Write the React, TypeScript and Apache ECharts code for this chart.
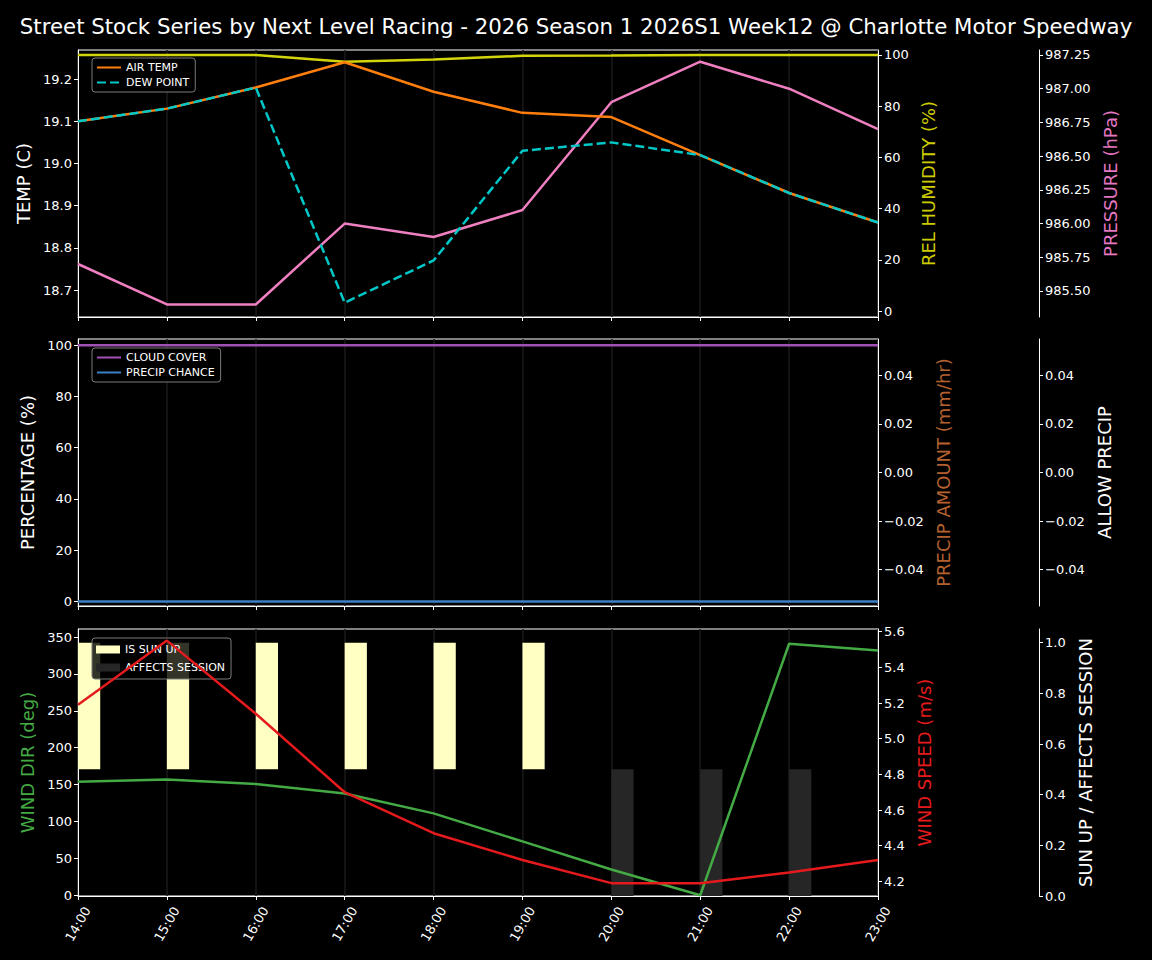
import * as echarts from 'echarts';
import React, { useEffect, useRef } from 'react';

const TITLE =
  'Street Stock Series by Next Level Racing - 2026 Season 1 2026S1 Week12 @ Charlotte Motor Speedway';

const hours = [14, 15, 16, 17, 18, 19, 20, 21, 22, 23];

// top panel
const airTemp = [19.1, 19.13, 19.18, 19.24, 19.17, 19.12, 19.11, 19.02, 18.93, 18.86];
const dewPoint = [19.1, 19.13, 19.18, 18.67, 18.77, 19.03, 19.05, 19.02, 18.93, 18.86];
const relHumidity = [100, 100, 100, 97.4, 98.2, 99.7, 99.8, 100, 100, 100];
const pressure = [985.7, 985.4, 985.4, 986.0, 985.9, 986.1, 986.9, 987.2, 987.0, 986.7];

// middle panel
const cloudCover = [100, 100, 100, 100, 100, 100, 100, 100, 100, 100];
const precipChance = [0, 0, 0, 0, 0, 0, 0, 0, 0, 0];
const precipAmount = [0, 0, 0, 0, 0, 0, 0, 0, 0, 0];

// bottom panel
const windDir = [154, 157, 151, 138, 111, 73, 35, 0, 341, 332];
const windSpeed = [5.19, 5.55, 5.14, 4.7, 4.47, 4.32, 4.19, 4.19, 4.25, 4.32];
const isSunUp = [1, 1, 1, 1, 1, 1, 0, 0, 0, 0];
const affectsSession = [0, 0, 0, 0, 0, 0, 1, 1, 1, 0];

// tick labels
const tempTicks = [18.7, 18.8, 18.9, 19.0, 19.1, 19.2];
const humidityTicks = [0, 20, 40, 60, 80, 100];
const pressureTicks = [985.5, 985.75, 986.0, 986.25, 986.5, 986.75, 987.0, 987.25];
const percentTicks = [0, 20, 40, 60, 80, 100];
const precipTicks = [-0.04, -0.02, 0, 0.02, 0.04];
const windDirTicks = [0, 50, 100, 150, 200, 250, 300, 350];
const windSpeedTicks = [4.2, 4.4, 4.6, 4.8, 5.0, 5.2, 5.4, 5.6];
const sunTicks = [0, 0.2, 0.4, 0.6, 0.8, 1.0];

const FONT = 'DejaVu Sans';
const BAR_HOURS = 0.25;
const LW = 2.5;

const pairs = (vals: number[]) => hours.map((h, i) => [h, vals[i]]);

const fmt = (v: number, d: number) => v.toFixed(d).replace('-', '\u2212');

const yAx = (
  gridIndex: number,
  position: 'left' | 'right',
  offset: number,
  name: string,
  nameColor: string,
  nameGap: number,
  min: number,
  max: number,
  ticks: number[],
  decimals: number,
) => ({
  type: 'value',
  gridIndex,
  position,
  offset,
  min,
  max,
  name,
  nameLocation: 'middle',
  nameGap,
  nameRotate: 90,
  nameTextStyle: { color: nameColor, fontSize: 18, fontFamily: FONT },
  axisLine: { show: true, onZero: false, lineStyle: { color: '#fff', width: 1 } },
  axisTick: { show: true, length: 4, customValues: ticks, lineStyle: { color: '#fff' } },
  axisLabel: {
    color: '#fff',
    fontSize: 13,
    fontFamily: FONT,
    margin: 6,
    customValues: ticks,
    formatter: (v: number) => fmt(v, decimals),
  },
  splitLine: { show: false },
});

const xAx = (gridIndex: number) => ({
  type: 'value',
  gridIndex,
  min: 14,
  max: 23,
  interval: 1,
  axisLine: { show: true, onZero: false, lineStyle: { color: '#fff' } },
  axisTick: { show: true, length: 4, lineStyle: { color: '#fff' } },
  axisLabel: {
    show: gridIndex === 2,
    rotate: 60,
    align: 'center',
    verticalAlign: 'middle',
    color: '#fff',
    fontSize: 13,
    fontFamily: FONT,
    margin: 28,
    formatter: (v: number) => `${v}:00`,
  },
  splitLine: { show: true, lineStyle: { color: '#1a1a1a', width: 1.5 } },
});

const line = (
  name: string,
  data: number[],
  color: string,
  xAxisIndex: number,
  yAxisIndex: number,
  extra: Record<string, unknown> = {},
) => ({
  name,
  type: 'line',
  xAxisIndex,
  yAxisIndex,
  data: pairs(data),
  symbol: 'none',
  lineStyle: { color, width: LW },
  itemStyle: { color },
  ...extra,
});

// draws a bar spanning [base, base + scale * value] from hour to hour + BAR_HOURS
const spanBar =
  (base: number, scale: number, color: string) =>
  (_params: unknown, api: any) => {
    const v = api.value(1);
    if (!v) return null;
    const x = api.value(0);
    const a = api.coord([x, base + scale * v]);
    const b = api.coord([x + BAR_HOURS, base]);
    return {
      type: 'rect',
      shape: { x: a[0], y: a[1], width: b[0] - a[0], height: b[1] - a[1] },
      style: { fill: color },
    };
  };

const legendBase = {
  orient: 'vertical',
  left: 92,
  itemWidth: 24,
  itemHeight: 12,
  itemGap: 4,
  padding: [4, 6, 4, 4],
  backgroundColor: 'rgba(0,0,0,0.8)',
  borderColor: '#7a7a7a',
  borderWidth: 1,
  borderRadius: 3,
  selectedMode: false,
  z: 4,
  textStyle: { color: '#fff', fontSize: 11, fontFamily: FONT },
};

// line legends: hide the marker so only the line sample shows
const lineLegend = { ...legendBase, itemStyle: { opacity: 0 } };

const App: React.FC = () => {
  const chartRef = useRef<HTMLDivElement>(null);

  useEffect(() => {
    document.body.style.margin = '0';
    document.body.style.background = '#000';
    let chart: echarts.ECharts | undefined;
    if (chartRef.current) {
      chart = echarts.init(chartRef.current, undefined, { renderer: 'svg' });

      const option: any = {
        animation: false,
        backgroundColor: '#000',
        textStyle: { fontFamily: FONT },
        title: {
          text: TITLE,
          left: 'center',
          top: 11,
          textStyle: { color: '#fff', fontSize: 21.3, fontWeight: 'normal', fontFamily: FONT },
        },
        legend: [
          { ...lineLegend, top: 58, data: ['AIR TEMP', 'DEW POINT'] },
          { ...lineLegend, top: 348, data: ['CLOUD COVER', 'PRECIP CHANCE'] },
          {
            ...legendBase,
            top: 638,
            itemHeight: 8,
            itemGap: 7,
            padding: [6, 6, 6, 4],
            data: [
              { name: 'IS SUN UP', icon: 'rect' },
              { name: 'AFFECTS SESSION', icon: 'rect' },
            ],
          },
        ],
        grid: [
          { left: 78, top: 50, width: 800, height: 267 },
          { left: 78, top: 339, width: 800, height: 267 },
          { left: 78, top: 629, width: 800, height: 267 },
        ].map((g) => ({ ...g, show: true, borderColor: '#fff', borderWidth: 1, backgroundColor: '#000' })),
        xAxis: [xAx(0), xAx(1), xAx(2)],
        yAxis: [
          yAx(0, 'left', 0, 'TEMP (C)', '#fff', 44, 18.636, 19.269, tempTicks, 1),
          yAx(0, 'right', 0, 'REL HUMIDITY (%)', '#cccc00', 40, -2.34, 101.95, humidityTicks, 0),
          yAx(0, 'right', 161, 'PRESSURE (hPa)', '#e377c2', 60, 985.307, 987.287, pressureTicks, 2),
          yAx(1, 'left', 0, 'PERCENTAGE (%)', '#fff', 42, -1.8, 102.4, percentTicks, 0),
          yAx(1, 'right', 0, 'PRECIP AMOUNT (mm/hr)', '#b5612f', 56, -0.055, 0.055, precipTicks, 2),
          yAx(1, 'right', 161, 'ALLOW PRECIP', '#fff', 54, -0.055, 0.055, precipTicks, 2),
          yAx(2, 'left', 0, 'WIND DIR (deg)', '#44aa44', 41, -1, 361, windDirTicks, 0),
          yAx(2, 'right', 0, 'WIND SPEED (m/s)', '#e41a1c', 35, 4.118, 5.615, windSpeedTicks, 1),
          yAx(2, 'right', 161, 'SUN UP / AFFECTS SESSION', '#fff', 35, 0, 1.054, sunTicks, 1),
        ],
        series: [
          line('REL HUMIDITY', relHumidity, '#d4d40c', 0, 1),
          line('PRESSURE', pressure, '#ef7fc0', 0, 2),
          line('AIR TEMP', airTemp, '#ff7f0e', 0, 0),
          line('DEW POINT', dewPoint, '#00c8c8', 0, 0, {
            lineStyle: { color: '#00c8c8', width: LW, type: [9, 4] },
          }),
          line('CLOUD COVER', cloudCover, '#a052b4', 1, 3),
          line('PRECIP CHANCE', precipChance, '#3b80c4', 1, 3),
          {
            name: 'PRECIP AMOUNT',
            type: 'bar',
            xAxisIndex: 1,
            yAxisIndex: 4,
            data: pairs(precipAmount),
            barWidth: 0,
            itemStyle: { color: '#b5612f' },
          },
          {
            name: 'IS SUN UP',
            type: 'custom',
            xAxisIndex: 2,
            yAxisIndex: 8,
            data: pairs(isSunUp),
            itemStyle: { color: '#ffffc4' },
            renderItem: spanBar(0.5, 0.5, '#ffffc4'),
            z: 1,
          },
          {
            name: 'AFFECTS SESSION',
            type: 'custom',
            xAxisIndex: 2,
            yAxisIndex: 8,
            data: pairs(affectsSession),
            itemStyle: { color: '#262626' },
            renderItem: spanBar(0, 0.5, '#262626'),
            z: 1,
          },
          line('WIND DIR', windDir, '#44aa44', 2, 6),
          line('WIND SPEED', windSpeed, '#e41a1c', 2, 7, { z: 10 }),
        ],
      };

      chart.setOption(option);
    }

    return () => {
      chart?.dispose();
    };
  }, []);

  return <div ref={chartRef} style={{ width: '1152px', height: '960px', background: '#000' }} />;
};

export default App;
